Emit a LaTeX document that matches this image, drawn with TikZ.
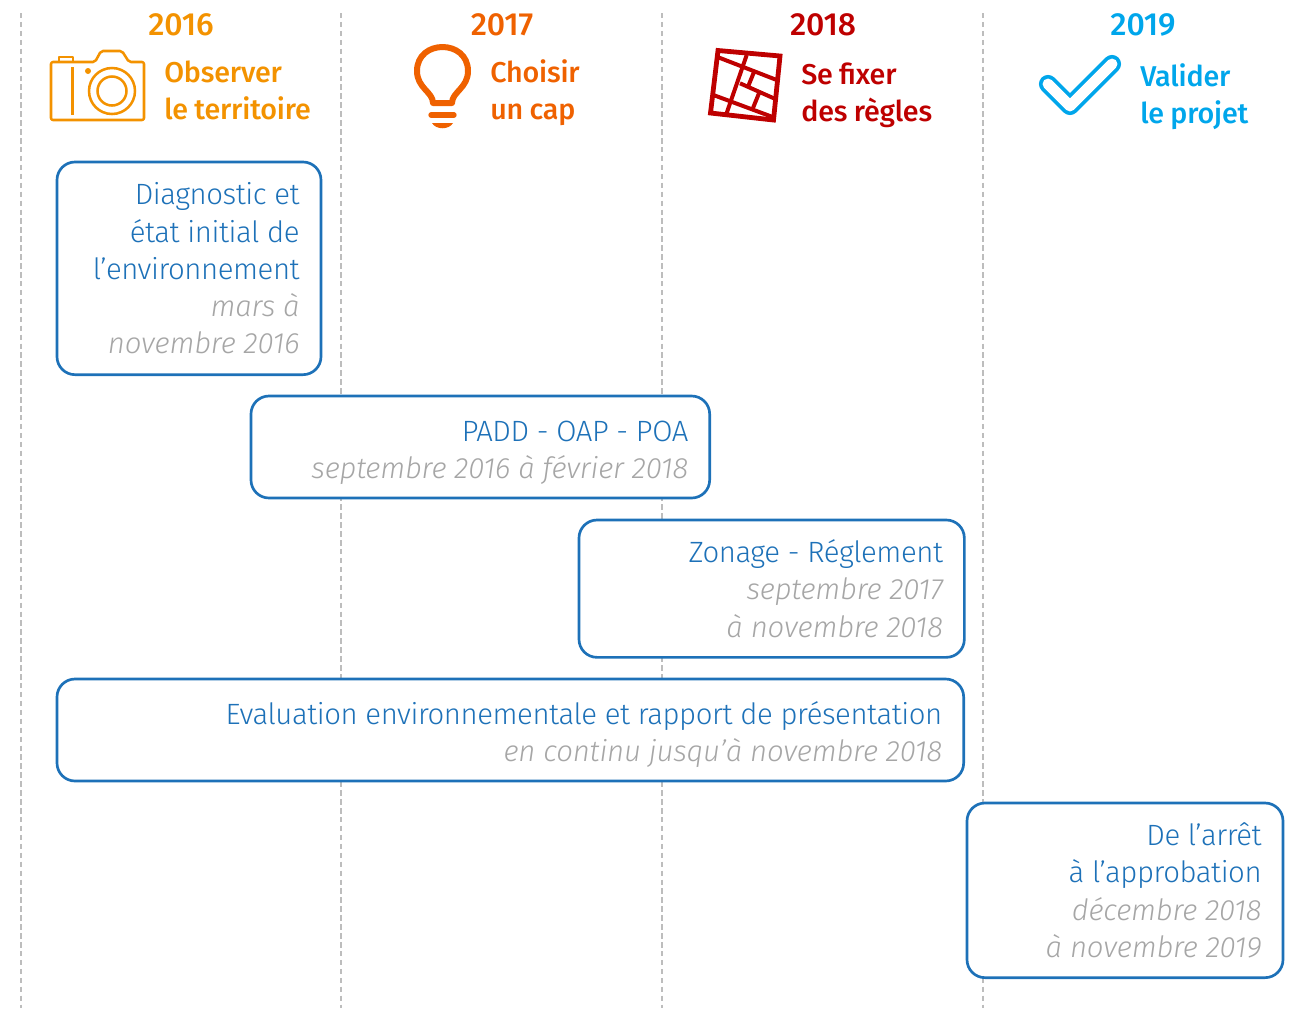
\documentclass[tikz,border=0pt]{standalone}
\usepackage{fontspec}
\setmainfont{Fira Sans Light}[BoldFont=Fira Sans Medium, ItalicFont=Fira Sans Light Italic, LetterSpace=-1.5, WordSpace=1, BoldFeatures={LetterSpace=-0.6, WordSpace=0.9}, ItalicFeatures={LetterSpace=-0.6}]
\usetikzlibrary{positioning}
\definecolor{orangeA}{HTML}{F39200}
\definecolor{orangeB}{HTML}{EF6100}
\definecolor{redC}{HTML}{BE0000}
\definecolor{blueD}{HTML}{00A6EB}
\definecolor{boxblue}{HTML}{1D71B8}
\definecolor{dategray}{HTML}{A6A6A6}
\definecolor{linegray}{HTML}{BDBDBD}
\newcommand{\datefmt}[1]{{\color{dategray}\itshape #1}}
\newcommand{\lowered}{\rule{0pt}{24.5pt}}
\tikzset{
    x=0.75pt, y=-0.75pt,
    yearline/.style={line width=1.2pt, linegray, dash pattern=on 4.1pt off 2.6pt}, % separates the years
    yearlabel/.style={font=\fontsize{24}{27}\selectfont\bfseries, inner sep=0pt},
    steplabel/.style={font=\fontsize{21.5}{27.75}\selectfont\bfseries, align=left, inner sep=0pt, anchor=west},
    period/.style={draw=boxblue, line width=2pt, fill=white, rounded corners=13.5pt, align=flush right,
        text=boxblue, font=\fontsize{22}{27.9}\selectfont, inner xsep=16pt, inner ysep=0pt, outer sep=0pt, anchor=north west}, % sets the properties for each box
}
\begin{document}
\begin{tikzpicture}
    \useasboundingbox (0,0) rectangle (1293,1008);
    % dashed lines
    \foreach \name/\xpos in {a/21, b/341, c/662, d/983} {
        \coordinate (top\name) at (\xpos,13);
        \coordinate (bottom\name) at (\xpos,1008);
        \draw[yearline] (top\name) -- (bottom\name);
    }
    % years and titles
    \node[yearlabel, orangeA] (y2016) at (181,25) {2016};
    \node[yearlabel, orangeB] (y2017) at (502,25) {2017};
    \node[yearlabel, redC] (y2018) at (823,25) {2018};
    \node[yearlabel, blueD] (y2019) at (1143,25) {2019};
    \node[steplabel, orangeA] (observer) at (164,90) {Observer\\le territoire};
    \node[steplabel, orangeB] (choisir) at (490,93) {Choisir\\un cap};
    \node[steplabel, redC] (fixer) at (801,95) {Se fixer\\des règles};
    \node[steplabel, blueD] (valider) at (1140,97) {Valider\\le projet};
    % camera
    \begin{scope}[orangeA, line width=1.9pt, line join=round]
        \draw[rounded corners=1.5pt] (51,62) -- (95,62) -- (101,51) -- (122,51) -- (129,62) -- (144,62) -- (144,120) -- (51,120) -- cycle;
        \draw (59,62) -- (59,57) -- (73,57) -- (73,62);
        \draw (72.5,67) -- (72.5,115);
        \draw (112,91) circle (23) circle (14.5);
        \fill (88,71) circle (3);
    \end{scope}
    % bulb
    \begin{scope}[orangeB, line width=4.5pt, line cap=round, line join=round]
        \draw (433,103) .. controls (433,92) and (417,88) .. (417,71) .. controls (417,39) and (468,39) .. (468,71) .. controls (468,88) and (452,92) .. (452,103) -- cycle;
        \draw[line width=4pt] (431,115) -- (454,115);
        \fill (432,123) -- (453,123) .. controls (449,130) and (436,130) .. (432,123) -- cycle;
    \end{scope}
    % map
    \begin{scope}[redC, line width=3pt]
        \draw[line width=3.6pt] (718,50.5) -- (780,56) -- (773.5,120) -- (710.5,113) -- cycle;
        \draw (746.7,55) -- (726,115);
        \draw (716.7,56.7) -- (776.7,80);
        \draw (740,83.3) -- (776,99.3);
        \draw (712,94.5) -- (774,117.5);
        \draw (754,72) -- (748,86.7);
        \draw (759.5,92) -- (753,108);
    \end{scope}
    % check mark
    \draw[blueD, line width=2.7pt, double=white, double distance=8.2pt, line cap=round, line join=round]
        (1048,84) -- (1070,106) -- (1112,64);
    % periods
    \node[period, text width=166pt, minimum height=159.5pt] (diagnostic) at (57,162)
        {Diagnostic et\\état initial de\\l’environnement\\\datefmt{mars à}\\\datefmt{novembre 2016}};
    \node[period, text width=312pt, minimum height=76.5pt] (padd) at (251,396)
        {\lowered PADD - OAP - POA\\\datefmt{septembre 2016 à février 2018}};
    \node[period, text width=257pt, minimum height=103pt] (zonage) at (579,520)
        {Zonage - Réglement\\\datefmt{septembre 2017}\\\datefmt{à novembre 2018}};
    \node[period, text width=648pt, minimum height=76.5pt] (evaluation) at (57,679)
        {\lowered Evaluation environnementale et rapport de présentation\\\datefmt{en continu jusqu’à novembre 2018}};
    \node[period, text width=205pt, minimum height=131pt] (arret) at (967,803)
        {De l’arrêt\\à l’approbation\\\datefmt{décembre 2018}\\\datefmt{à novembre 2019}};
\end{tikzpicture}
\end{document}
